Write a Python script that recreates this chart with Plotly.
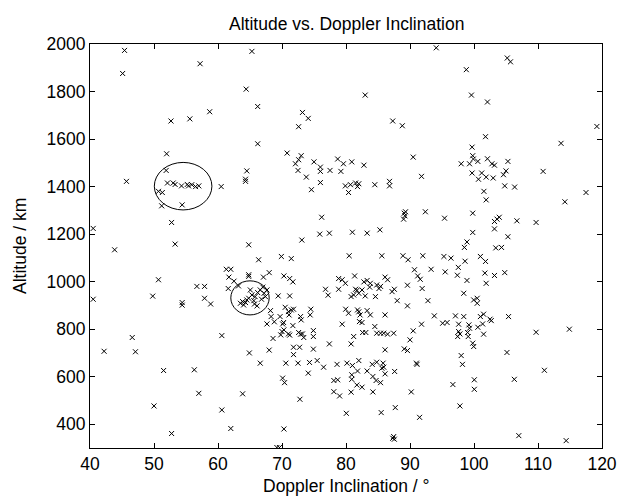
import plotly.graph_objects as go

inclination = [
45.4,45.1,52.65,51.97,51.9,
65.3,57.2,64.4,66.2,58.7,55.6,73.2,74.1,72.6,66.2,70.8,73.0,72.1,72.6,75.0,76.0,76.0,77.5,72.5,64.5,73.8,64.3,
94.1,98.8,83.0,99.6,87.3,88.8,99.7,90.5,99.8,99.9,98.0,99.3,78.7,79.6,80.9,82.8,79.2,91.8,99.7,
105.2,105.7,102.1,119.2,101.8,113.6,100.6,102.1,102.8,103.2,105.3,105.0,104.6,110.8,101.2,101.9,103.0,100.7,
45.7,52.1,53.0,53.3,54.3,50.7,51.3,51.2,54.4,52.75,40.5,53.3,43.85,50.7,49.8,40.5,54.4,54.4,
55.4,55.9,56.5,57.0,55.2,60.5,64.3,76.0,74.6,76.2,75.9,77.4,73.1,64.8,66.35,69.9,71.45,61.3,62.0,61.7,64.8,64.8,67.1,68.0,70.3,71.2,71.7,62.5,63.2,61.6,56.7,57.9,57.9,58.85,69.4,71.2,76.8,77.2,
63.85,63.5,64.3,64.8,65.05,65.3,65.8,66.2,66.6,67.0,67.2,67.4,66.8,65.7,66.1,65.6,64.5,64.0,67.65,
68.2,68.3,69.7,70.5,71.0,71.45,71.8,71.1,72.9,74.5,74.4,
79.9,80.7,81.5,82.0,81.8,80.4,84.5,86.8,86.8,89.1,89.2,89.0,89.3,92.4,95.4,99.8,81.0,83.3,85.3,99.8,98.9,98.5,
80.5,85.6,88.9,89.7,92.0,95.3,96.4,98.6,97.55,97.4,98.9,90.7,93.3,95.5,91.2,91.6,81.35,78.85,79.4,79.9,82.8,83.3,83.8,84.8,85.4,85.15,86.1,86.5,83.7,
78.85,81.5,81.7,82.5,83.0,81.2,80.8,82.0,84.6,87.2,87.55,89.6,91.9,88.0,89.6,92.8,98.4,99.95,79.95,81.8,82.0,80.4,82.2,83.3,83.8,86.1,93.8,97.1,98.4,
104.8,106.35,101.55,101.9,117.5,114.2,103.95,103.6,103.2,103.2,106.7,109.7,105.3,103.4,104.3,101.0,101.8,101.7,103.2,104.8,101.9,100.5,100.5,105.4,101.5,101.0,102.5,
42.2,46.6,47.1,51.5,50.0,52.75,
60.6,56.3,57.0,63.85,60.6,62.0,70.3,69.2,69.6,64.9,66.6,68.0,67.65,68.8,70.1,70.25,71.7,73.0,68.6,69.8,70.0,70.3,71.0,71.2,72.6,72.9,73.2,73.4,74.9,74.9,77.4,71.8,72.75,71.8,74.9,70.6,72.5,74.3,75.5,76.5,74.1,70.1,70.4,72.8,
79.4,82.1,82.5,84.5,82.6,83.1,84.8,85.4,85.9,86.5,87.45,81.2,80.8,91.8,90.5,90.0,89.1,89.6,86.1,95.1,95.8,97.6,97.6,97.8,97.45,99.2,99.3,99.0,99.1,99.8,99.95,98.0,98.2,91.0,91.1,
78.6,80.15,81.0,82.0,81.8,83.3,84.1,84.8,85.8,85.9,85.6,84.2,84.7,85.4,86.1,87.6,80.9,80.9,78.7,78.1,81.7,82.5,78.1,79.0,80.8,84.2,90.2,96.7,100.05,100.05,97.8,80.05,85.5,87.7,91.5,87.45,87.55,87.3,
101.35,100.6,102.7,101.5,109.7,114.9,105.15,111.0,106.3,107.0,114.4,
]

altitude = [
1973,1876,1676,1538,1468,
1969,1917,1810,1737,1715,1685,1712,1687,1652,1580,1541,1530,1496,1513,1504,1482,1464,1468,1468,1466,1440,1431,
1984,1892,1785,1785,1676,1656,1566,1524,1530,1516,1496,1496,1516,1496,1504,1490,1464,1443,1457,
1941,1925,1756,1653,1610,1582,1506,1517,1496,1490,1506,1466,1450,1464,1457,1440,1436,1431,
1422,1415,1415,1409,1403,1380,1375,1319,1323,1249,1224,1158,1134,1008,939,926,912,901,
1403,1408,1400,1403,1409,1400,1422,1417,1387,1271,1200,1204,1175,1155,1092,1106,1097,1052,1052,1019,1029,1022,1019,1038,1024,1013,999,1002,982,971,980,980,930,906,940,940,968,943,
916,909,912,930,965,944,937,954,965,977,951,937,926,906,898,920,923,902,965,
878,853,853,892,874,881,884,860,853,884,860,
1403,1408,1415,1412,1400,1375,1408,1422,1403,1288,1277,1263,1294,1294,1267,1288,1208,1204,1218,1207,1167,1144,
1109,1109,1109,1092,1109,1106,1099,1086,1060,1027,1005,1050,1052,1041,1024,1010,1024,1013,1008,993,999,1005,993,986,980,971,1019,1008,977,
968,968,963,965,940,944,937,951,937,958,968,985,971,920,898,920,951,923,884,881,873,867,860,878,860,860,856,856,853,
1403,1398,1380,1344,1375,1336,1271,1263,1253,1222,1256,1249,1189,1142,1144,1106,1085,1036,1026,1038,993,930,909,853,863,853,842,
707,765,705,626,477,361,
773,629,530,528,460,382,380,302,302,700,657,712,822,831,822,828,815,839,761,776,790,797,780,775,786,779,780,765,794,769,738,724,724,693,716,657,657,660,668,640,615,594,575,505,
821,832,828,811,786,786,783,783,783,779,783,769,738,821,793,755,717,710,713,825,828,821,790,780,769,818,804,786,769,741,727,689,652,657,652,
652,657,647,668,624,624,652,661,657,640,636,601,584,575,612,622,608,589,587,584,565,556,537,519,535,536,536,567,587,547,477,446,449,470,429,348,337,341,
822,808,836,779,787,800,702,627,589,352,331,
]

x_ticks = [40, 50, 60, 70, 80, 90, 100, 110, 120]
y_ticks = [400, 600, 800, 1000, 1200, 1400, 1600, 1800, 2000]

# highlighted clusters: centre (inclination, altitude) and half-widths
ellipse_cx = [54.55, 65.0]
ellipse_cy = [1401.7, 931.7]
ellipse_rx = [4.5, 3.0]
ellipse_ry = [100.0, 71.7]

FONT = "Liberation Sans, Arial, Helvetica, sans-serif"
FS = 17.5

fig = go.Figure()
fig.add_trace(go.Scatter(
    x=inclination, y=altitude, mode="markers",
    marker=dict(symbol="x-thin", size=5, color="black",
                line=dict(width=1, color="black")),
    showlegend=False, hoverinfo="skip",
))

for cx, cy, rx, ry in zip(ellipse_cx, ellipse_cy, ellipse_rx, ellipse_ry):
    fig.add_shape(type="circle", xref="x", yref="y",
                  x0=cx - rx, x1=cx + rx, y0=cy - ry, y1=cy + ry,
                  line=dict(color="black", width=1))

axis_common = dict(
    showgrid=False, zeroline=False, showline=True, linecolor="black",
    linewidth=1, mirror="ticks", ticks="inside", ticklen=5,
    tickcolor="black", tickfont=dict(family=FONT, size=FS, color="black"),
)

fig.update_xaxes(range=[40, 120], tickvals=x_ticks, **axis_common)
fig.update_yaxes(range=[300, 2000], tickvals=y_ticks, **axis_common)

fig.update_layout(
    width=633, height=499,
    margin=dict(l=90, r=31, t=44, b=51),
    paper_bgcolor="white", plot_bgcolor="white",
    font=dict(family=FONT, size=FS, color="black"),
    hovermode=False,
    annotations=[
        dict(text="Altitude vs. Doppler Inclination", xref="paper", yref="paper",
             x=0.5, y=1.0, yshift=8, xanchor="center", yanchor="bottom",
             showarrow=False, font=dict(family=FONT, size=FS)),
        dict(text="Doppler Inclination / °", xref="paper", yref="paper",
             x=0.5, y=0, yshift=-38, xanchor="center", yanchor="middle",
             showarrow=False, font=dict(family=FONT, size=FS)),
        dict(text="Altitude / km", xref="paper", yref="paper",
             x=0, y=0.5, xshift=-70, xanchor="center", yanchor="middle",
             textangle=-90, showarrow=False, font=dict(family=FONT, size=FS)),
    ],
)

fig.write_html(
    "out.html",
    config={"displayModeBar": False, "staticPlot": True},
    post_script="document.body.style.margin='0px';document.body.style.overflow='hidden';",
)
